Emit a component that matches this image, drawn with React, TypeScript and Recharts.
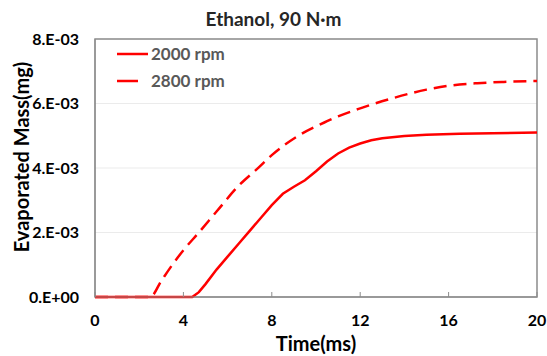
import React from 'react';
import { LineChart, Line, XAxis, YAxis, CartesianGrid, ReferenceArea, Legend } from 'recharts';

const timeTicks = [0, 4, 8, 12, 16, 20];
const massTicks = [0, 0.002, 0.004, 0.006, 0.008];

// 2000 rpm (solid)
const time2000 = [0, 4.4, 4.7, 5.0, 5.5, 6.0, 6.5, 7.0, 7.5, 8.0, 8.5, 9.0, 9.5, 10.0, 10.5, 11.0, 11.5, 12.0, 12.5, 13.0, 14.0, 15.0, 16.5, 18.0, 20.0];
const mass2000 = [0, 0, 0.15e-3, 0.4e-3, 0.85e-3, 1.25e-3, 1.65e-3, 2.05e-3, 2.45e-3, 2.85e-3, 3.2e-3, 3.42e-3, 3.62e-3, 3.9e-3, 4.2e-3, 4.45e-3, 4.63e-3, 4.76e-3, 4.86e-3, 4.92e-3, 4.99e-3, 5.03e-3, 5.06e-3, 5.08e-3, 5.1e-3];

// 2800 rpm (dashed)
const time2800 = [0, 2.5, 3.0, 3.5, 4.0, 4.7, 5.5, 6.5, 7.3, 8.0, 9.2, 10.5, 11.0, 12.0, 13.5, 15.0, 16.0, 17.3, 18.5, 20.0];
const mass2800 = [0, 0, 0.5e-3, 1.0e-3, 1.45e-3, 2.0e-3, 2.65e-3, 3.45e-3, 3.95e-3, 4.4e-3, 5.0e-3, 5.45e-3, 5.6e-3, 5.85e-3, 6.17e-3, 6.43e-3, 6.55e-3, 6.63e-3, 6.67e-3, 6.7e-3];

const data2000 = time2000.map((t, i) => ({ time: t, mass: mass2000[i] }));
const data2800 = time2800.map((t, i) => ({ time: t, mass: mass2800[i] }));

const FONT = 'Lato, "Open Sans", sans-serif';
const RED = '#ff0000';
const FRAME = '#8c8c8c';

const fmtMass = (v: number) => (v === 0 ? '0.E+00' : `${Math.round(v * 1000)}.E-03`);

function LegendBox() {
  const items = [
    { name: '2000 rpm', x1: 0, x2: 31 },
    { name: '2800 rpm', x1: 0, x2: 21 },
  ];
  return (
    <div style={{ fontFamily: FONT }}>
      {items.map((it) => (
        <div key={it.name} style={{ display: 'flex', alignItems: 'center', height: 27 }}>
          <svg width={34} height={10}>
            <line x1={it.x1} x2={it.x2} y1={5} y2={5} stroke={RED} strokeWidth={2.5} />
          </svg>
          <span style={{ fontSize: 17, fontWeight: 700, color: '#595959' }}>{it.name}</span>
        </div>
      ))}
    </div>
  );
}

export default function App() {
  return (
    <div style={{ position: 'absolute', left: 0, top: 0, width: 547, height: 356, background: '#fff', fontFamily: FONT }}>
      <div
        style={{
          position: 'absolute',
          top: 7,
          width: 547,
          textAlign: 'center',
          fontSize: 19,
          fontWeight: 700,
          color: '#262626',
        }}
      >
        Ethanol, 90 N·m
      </div>
      <LineChart width={547} height={356} margin={{ top: 39, right: 10, left: 0, bottom: 0 }}>
        <CartesianGrid vertical={false} stroke="#ebebeb" strokeWidth={1} />
        <XAxis
          dataKey="time"
          type="number"
          domain={[0, 20]}
          ticks={timeTicks}
          allowDuplicatedCategory={false}
          height={59}
          stroke={FRAME}
          tickSize={-5}
          tickMargin={23}
          tick={{ fill: '#000', fontSize: 16, fontWeight: 700, fontFamily: FONT }}
          label={{
            content: () => (
              <text x={316} y={351} textAnchor="middle" fontSize={20} fontWeight={700} fill="#000" fontFamily={FONT}>
                Time(ms)
              </text>
            ),
          }}
        />
        <YAxis
          dataKey="mass"
          type="number"
          domain={[0, 0.008]}
          ticks={massTicks}
          tickFormatter={fmtMass}
          width={95}
          stroke={FRAME}
          tickLine={false}
          tickSize={0}
          tickMargin={16}
          tick={{ fill: '#000', fontSize: 16, fontWeight: 700, fontFamily: FONT }}
          label={{
            content: () => (
              <text
                x={21}
                y={157}
                transform="rotate(-90, 21, 157)"
                textAnchor="middle"
                dominantBaseline="central"
                fontSize={20}
                fontWeight={700}
                fill="#000"
                fontFamily={FONT}
              >
                Evaporated Mass(mg)
              </text>
            ),
          }}
        />
        <ReferenceArea x1={0} x2={20} y1={0} y2={0.008} fill="none" stroke={FRAME} strokeWidth={1.5} />
        <Line
          data={data2000}
          dataKey="mass"
          name="2000 rpm"
          type="linear"
          stroke={RED}
          strokeWidth={2.5}
          dot={false}
          isAnimationActive={false}
        />
        <Line
          data={data2800}
          dataKey="mass"
          name="2800 rpm"
          type="monotone"
          stroke={RED}
          strokeWidth={2.5}
          strokeDasharray="13 7"
          dot={false}
          isAnimationActive={false}
        />
        <Legend
          layout="vertical"
          align="center"
          verticalAlign="middle"
          content={() => <LegendBox />}
          wrapperStyle={{ left: 117, top: 40, width: 160 }}
        />
      </LineChart>
    </div>
  );
}
